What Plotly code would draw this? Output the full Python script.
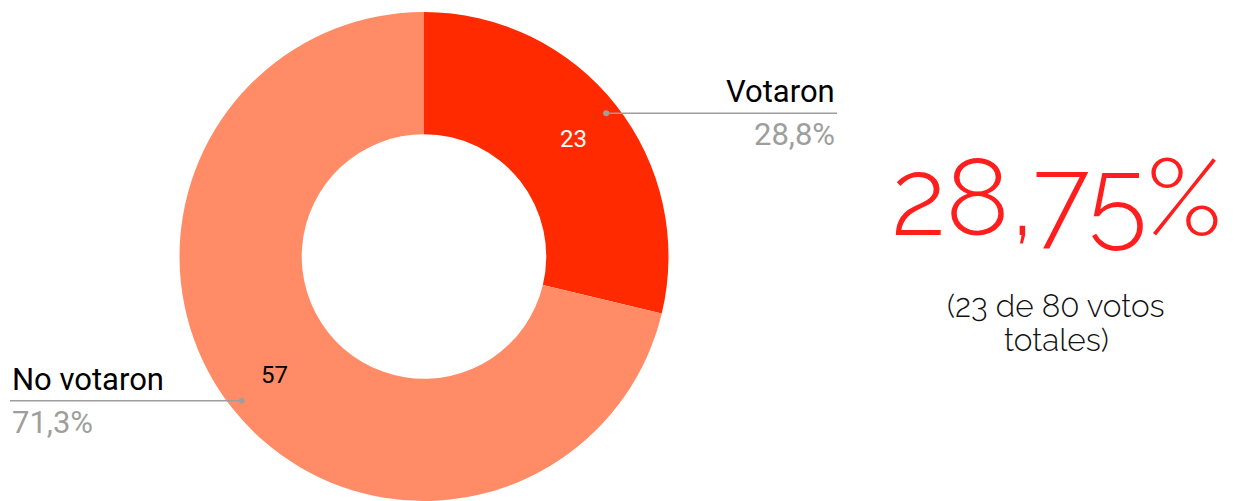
import math
import plotly.graph_objects as go

labels = ["Votaron", "No votaron"]
values = [23, 57]
colors = ["#FF2A00", "#FF8C66"]
text_colors = ["#FFFFFF", "#000000"]
pct_labels = ["28,8%", "71,3%"]
big_text = "28,75%"
sub_lines = ["(23 de 80 votos", "totales)"]

W, H = 1236, 501
cx, cy, R = 424, 257, 245

fig = go.Figure()
fig.add_trace(go.Pie(
    labels=labels, values=values, sort=False, direction="clockwise",
    hole=0.5, marker=dict(colors=colors, line=dict(width=0)),
    textinfo="none",
    domain=dict(x=[(cx - R) / W, (cx + R) / W], y=[0, 1 - 12 / H]),
    showlegend=False, hoverinfo="label+value+percent",
))

total = sum(values)
start = 0.0
label_side = [("right", 837), ("left", 10)]
for i, v in enumerate(values):
    mid = (start + v / 2) / total * 2 * math.pi
    start += v
    # value label inside the slice
    rv = 191
    fig.add_annotation(x=(cx + rv * math.sin(mid)) / W, y=1 - (cy - rv * math.cos(mid)) / H,
                       xref="paper", yref="paper", text=str(v), showarrow=False,
                       xanchor="center", yanchor="middle",
                       font=dict(family="Roboto", size=24, color=text_colors[i]))
    r = 232
    dx = cx + r * math.sin(mid)
    dy = cy - r * math.cos(mid)
    side, endx = label_side[i]
    x0, x1 = sorted([dx, endx])
    fig.add_shape(type="line", xref="paper", yref="paper",
                  x0=x0 / W, x1=x1 / W, y0=1 - dy / H, y1=1 - dy / H,
                  line=dict(color="#9E9E9E", width=1.5))
    fig.add_shape(type="circle", xref="paper", yref="paper",
                  x0=(dx - 3) / W, x1=(dx + 3) / W, y0=1 - (dy - 3) / H, y1=1 - (dy + 3) / H,
                  fillcolor="#9E9E9E", line=dict(width=0))
    anchor = "right" if side == "right" else "left"
    fig.add_annotation(x=endx / W, y=1 - (dy - 1) / H, xref="paper", yref="paper",
                       text=labels[i], showarrow=False, xanchor=anchor, yanchor="bottom",
                       font=dict(family="Roboto", size=31, color="#000000"))
    fig.add_annotation(x=endx / W, y=1 - (dy + 1) / H, xref="paper", yref="paper",
                       text=pct_labels[i], showarrow=False, xanchor=anchor, yanchor="top",
                       font=dict(family="Roboto", size=31, color="#9E9E9E"))

fig.add_annotation(x=1056 / W, y=1 - 197 / H, xref="paper", yref="paper",
                   text=big_text, showarrow=False, xanchor="center", yanchor="middle",
                   font=dict(family="Raleway", size=108, color="#FF1E1E", weight=300))
for j, (line, ypx) in enumerate(zip(sub_lines, [305, 339])):
    fig.add_annotation(x=1056 / W, y=1 - ypx / H, xref="paper", yref="paper",
                       text=line, showarrow=False, xanchor="center", yanchor="middle",
                       font=dict(family="Raleway", size=31.5, color="#111111", weight=300))

fig.update_layout(width=W, height=H, margin=dict(l=0, r=0, t=0, b=0),
                  paper_bgcolor="white", plot_bgcolor="white")
fig.write_html("out.html", config={"displayModeBar": False},
               post_script="document.body.style.margin='0px';")
